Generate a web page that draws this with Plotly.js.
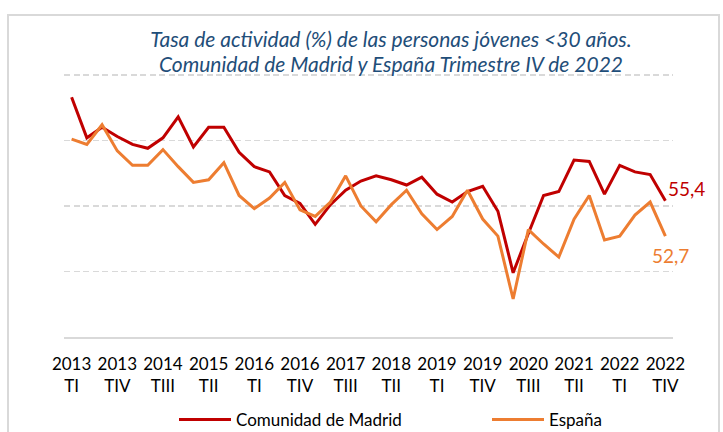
<!DOCTYPE html>
<html>
<head>
<meta charset="utf-8">
<script src="https://cdn.plot.ly/plotly-3.0.1.min.js"></script>
<style>html,body{margin:0;padding:0;background:#fff;}#chart{width:723px;height:432px;}</style>
</head>
<body>
<div id="chart"></div>
<script>
// Quarters (categories)
const quarters = [
  "2013<br>TI","2013<br>TII","2013<br>TIII","2013<br>TIV",
  "2014<br>TI","2014<br>TII","2014<br>TIII","2014<br>TIV",
  "2015<br>TI","2015<br>TII","2015<br>TIII","2015<br>TIV",
  "2016<br>TI","2016<br>TII","2016<br>TIII","2016<br>TIV",
  "2017<br>TI","2017<br>TII","2017<br>TIII","2017<br>TIV",
  "2018<br>TI","2018<br>TII","2018<br>TIII","2018<br>TIV",
  "2019<br>TI","2019<br>TII","2019<br>TIII","2019<br>TIV",
  "2020<br>TI","2020<br>TII","2020<br>TIII","2020<br>TIV",
  "2021<br>TI","2021<br>TII","2021<br>TIII","2021<br>TIV",
  "2022<br>TI","2022<br>TII","2022<br>TIII","2022<br>TIV"
];
// Tick labels shown on the axis
const tickLabels = [
  "2013<br>TI","2013<br>TIV","2014<br>TIII","2015<br>TII","2016<br>TI",
  "2016<br>TIV","2017<br>TIII","2018<br>TII","2019<br>TI","2019<br>TIV",
  "2020<br>TIII","2021<br>TII","2022<br>TI","2022<br>TIV"
];
// Activity rate (%) of young people <30
const madrid = [
  63.3, 60.2, 61.0, 60.3, 59.7, 59.4, 60.2, 61.8, 59.5, 61.0,
  61.0, 59.1, 58.0, 57.6, 55.8, 55.2, 53.6, 55.1, 56.2, 56.9,
  57.3, 57.0, 56.6, 57.2, 55.9, 55.3, 56.1, 56.5, 54.6, 49.9,
  52.9, 55.8, 56.1, 58.5, 58.4, 55.9, 58.1, 57.6, 57.4, 55.4
];
const espana = [
  60.1, 59.7, 61.2, 59.2, 58.1, 58.1, 59.3, 58.0, 56.8, 57.0,
  58.3, 55.8, 54.8, 55.6, 56.8, 54.7, 54.2, 55.3, 57.3, 55.0,
  53.8, 55.1, 56.2, 54.4, 53.2, 54.2, 56.2, 54.0, 52.7, 47.9,
  53.2, 52.1, 51.1, 54.0, 55.8, 52.4, 52.7, 54.3, 55.3, 52.7
];
const gridValues = [50, 55, 60, 65];
const seriesNames = ["Comunidad de Madrid", "España"];
const colors = ["#C00000", "#ED7D31"];
const titleLine1 = "Tasa de actividad (%) de las personas jóvenes <30 años.";
const titleLine2 = "Comunidad de Madrid y España Trimestre IV de 2022";

const FONT = "Lato, 'Open Sans', sans-serif";
const fmt = v => v.toFixed(1).replace('.', ',');
const lastIdx = quarters.length - 1;

// plot area in pixels: left 64, right 673, top 71, bottom 337
const PL = 64, PW = 609, PB = 337, PH = 266;
const px2x = p => (p - PL) / PW;
const px2y = p => (PB - p) / PH;

const traces = [
  {x: quarters, y: madrid, name: seriesNames[0], type: 'scatter', mode: 'lines',
   line: {color: colors[0], width: 3}, hoverinfo: 'skip', legend: 'legend'},
  {x: quarters, y: espana, name: seriesNames[1], type: 'scatter', mode: 'lines',
   line: {color: colors[1], width: 3}, hoverinfo: 'skip', legend: 'legend2'}
];

const legendBase = {
  orientation: 'h', xanchor: 'left', yanchor: 'middle',
  font: {family: FONT, size: 17, color: '#000000'},
  itemwidth: 52, bgcolor: 'rgba(0,0,0,0)'
};

const layout = {
  width: 723, height: 432,
  margin: {l: 64, r: 50, t: 71, b: 95, autoexpand: false},
  paper_bgcolor: '#ffffff', plot_bgcolor: '#ffffff',
  font: {family: FONT, size: 17, color: '#000000'},
  title: {
    text: '<i>' + titleLine1.replace('<', '&lt;') + '</i>',
    font: {family: FONT, size: 21, color: '#1F4E79'},
    x: 391 / 723, xanchor: 'center', xref: 'container',
    y: 1 - 40 / 432, yanchor: 'middle', yref: 'container'
  },
  xaxis: {
    type: 'category', categoryorder: 'array', categoryarray: quarters,
    range: [-0.5, lastIdx + 0.5],
    tickmode: 'array', tickvals: tickLabels, ticktext: tickLabels,
    showgrid: false, zeroline: false,
    showline: true, linecolor: '#D9D9D9', linewidth: 1.5,
    ticks: '', ticklabelstandoff: 11,
    tickfont: {family: FONT, size: 17, color: '#000000'},
    tickangle: 0, fixedrange: true
  },
  yaxis: {
    range: [45, 65.3], tickmode: 'array', tickvals: gridValues,
    showticklabels: false, showgrid: true, gridcolor: '#D9D9D9', gridwidth: 1.5,
    griddash: '6px,3.5px', zeroline: false, showline: false, ticks: '', fixedrange: true
  },
  showlegend: true,
  legend: Object.assign({}, legendBase, {x: px2x(174), y: px2y(420)}),
  legend2: Object.assign({}, legendBase, {x: px2x(487), y: px2y(420)}),
  shapes: [{
    type: 'rect', xref: 'paper', yref: 'paper',
    x0: px2x(8), x1: px2x(719),
    y0: px2y(445), y1: px2y(15),
    line: {color: '#D9D9D9', width: 2}, fillcolor: 'rgba(0,0,0,0)', layer: 'below'
  }],
  annotations: [
    {x: px2x(391), y: px2y(63), xref: 'paper', yref: 'paper',
     text: '<i>' + titleLine2 + '</i>', showarrow: false,
     xanchor: 'center', yanchor: 'middle',
     font: {family: FONT, size: 21, color: '#1F4E79'}},
    {x: quarters[lastIdx], y: madrid[lastIdx], xref: 'x', yref: 'y',
     text: fmt(madrid[lastIdx]), showarrow: false, xshift: 21, yshift: 12,
     font: {family: FONT, size: 19, color: colors[0]}},
    {x: quarters[lastIdx], y: espana[lastIdx], xref: 'x', yref: 'y',
     text: fmt(espana[lastIdx]), showarrow: false, xshift: 5, yshift: -19,
     font: {family: FONT, size: 19, color: colors[1]}}
  ]
};

Plotly.newPlot('chart', traces, layout, {displayModeBar: false, staticPlot: true});
</script>
</body>
</html>
